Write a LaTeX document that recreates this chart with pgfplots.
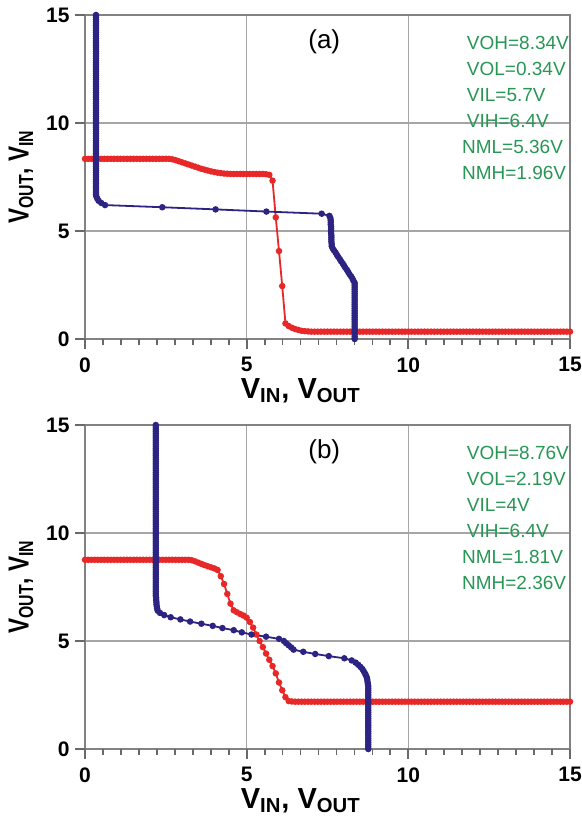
\documentclass[border=0pt]{standalone}
\usepackage{fontspec}
\setmainfont{Liberation Sans}
\usepackage{graphicx}
\usepackage{pgfplots}
\pgfplotsset{compat=1.18}
\usepackage{pgfplotstable}

\definecolor{cred}{RGB}{232,40,40}
\definecolor{cblue}{RGB}{45,35,130}
\definecolor{cgreen}{RGB}{40,150,85}
\definecolor{cgrid}{RGB}{165,165,165}
\definecolor{caxis}{RGB}{130,130,130}
\definecolor{ctick}{RGB}{105,105,105}

% s = swept input, r = output of inverter (red: x=s, y=r), b = output of second inverter (blue: x=b, y=s)
\pgfplotstableread[row sep=\\]{
s r b\\
0.0 8.34 8.34\\ 0.1 8.34 8.34\\ 0.2 8.34 8.34\\ 0.3 8.34 8.34\\ 0.4 8.34 8.34\\
0.5 8.34 8.34\\ 0.6 8.34 8.34\\ 0.7 8.34 8.34\\ 0.8 8.34 8.34\\ 0.9 8.34 8.34\\
1.0 8.34 8.34\\ 1.1 8.34 8.34\\ 1.2 8.34 8.34\\ 1.3 8.34 8.34\\ 1.4 8.34 8.34\\
1.5 8.34 8.34\\ 1.6 8.34 8.34\\ 1.7 8.34 8.34\\ 1.8 8.34 8.34\\ 1.9 8.34 8.34\\
2.0 8.34 8.34\\ 2.1 8.34 8.34\\ 2.2 8.34 8.34\\ 2.3 8.34 8.34\\ 2.4 8.34 8.34\\
2.5 8.34 8.34\\ 2.6 8.34 8.34\\ 2.7 8.32 8.30\\ 2.8 8.28 8.27\\ 2.9 8.23 8.23\\
3.0 8.18 8.18\\ 3.1 8.13 8.14\\ 3.2 8.08 8.10\\ 3.3 8.03 8.05\\ 3.4 7.98 8.01\\
3.5 7.93 7.97\\ 3.6 7.88 7.92\\ 3.7 7.84 7.88\\ 3.8 7.80 7.83\\ 3.9 7.76 7.79\\
4.0 7.73 7.75\\ 4.1 7.70 7.70\\ 4.2 7.68 7.66\\ 4.3 7.66 7.63\\ 4.4 7.65 7.63\\
4.5 7.64 7.62\\ 4.6 7.64 7.62\\ 4.7 7.64 7.62\\ 4.8 7.64 7.62\\ 4.9 7.64 7.61\\
5.0 7.64 7.61\\ 5.1 7.64 7.61\\ 5.2 7.64 7.61\\ 5.3 7.64 7.60\\ 5.4 7.64 7.60\\
5.5 7.64 7.60\\ 5.6 7.63 7.59\\ 5.7 7.60 7.56\\ 5.8 7.33 7.32\\ 5.9 5.63 5.61\\
6.0 4.07 4.04\\ 6.1 2.45 2.39\\ 6.2 0.72 0.62\\ 6.3 0.60 0.50\\ 6.4 0.52 0.42\\
6.5 0.46 0.38\\ 6.6 0.42 0.35\\ 6.7 0.38 0.34\\ 6.8 0.36 0.34\\ 6.9 0.35 0.34\\
7.0 0.34 0.34\\ 7.1 0.34 0.34\\ 7.2 0.34 0.34\\ 7.3 0.34 0.34\\ 7.4 0.34 0.34\\
7.5 0.34 0.34\\ 7.6 0.34 0.34\\ 7.7 0.34 0.34\\ 7.8 0.34 0.34\\ 7.9 0.34 0.34\\
8.0 0.34 0.34\\ 8.1 0.34 0.34\\ 8.2 0.34 0.34\\ 8.3 0.34 0.34\\ 8.4 0.34 0.34\\
8.5 0.34 0.34\\ 8.6 0.34 0.34\\ 8.7 0.34 0.34\\ 8.8 0.34 0.34\\ 8.9 0.34 0.34\\
9.0 0.34 0.34\\ 9.1 0.34 0.34\\ 9.2 0.34 0.34\\ 9.3 0.34 0.34\\ 9.4 0.34 0.34\\
9.5 0.34 0.34\\ 9.6 0.34 0.34\\ 9.7 0.34 0.34\\ 9.8 0.34 0.34\\ 9.9 0.34 0.34\\
10.0 0.34 0.34\\ 10.1 0.34 0.34\\ 10.2 0.34 0.34\\ 10.3 0.34 0.34\\ 10.4 0.34 0.34\\
10.5 0.34 0.34\\ 10.6 0.34 0.34\\ 10.7 0.34 0.34\\ 10.8 0.34 0.34\\ 10.9 0.34 0.34\\
11.0 0.34 0.34\\ 11.1 0.34 0.34\\ 11.2 0.34 0.34\\ 11.3 0.34 0.34\\ 11.4 0.34 0.34\\
11.5 0.34 0.34\\ 11.6 0.34 0.34\\ 11.7 0.34 0.34\\ 11.8 0.34 0.34\\ 11.9 0.34 0.34\\
12.0 0.34 0.34\\ 12.1 0.34 0.34\\ 12.2 0.34 0.34\\ 12.3 0.34 0.34\\ 12.4 0.34 0.34\\
12.5 0.34 0.34\\ 12.6 0.34 0.34\\ 12.7 0.34 0.34\\ 12.8 0.34 0.34\\ 12.9 0.34 0.34\\
13.0 0.34 0.34\\ 13.1 0.34 0.34\\ 13.2 0.34 0.34\\ 13.3 0.34 0.34\\ 13.4 0.34 0.34\\
13.5 0.34 0.34\\ 13.6 0.34 0.34\\ 13.7 0.34 0.34\\ 13.8 0.34 0.34\\ 13.9 0.34 0.34\\
14.0 0.34 0.34\\ 14.1 0.34 0.34\\ 14.2 0.34 0.34\\ 14.3 0.34 0.34\\ 14.4 0.34 0.34\\
14.5 0.34 0.34\\ 14.6 0.34 0.34\\ 14.7 0.34 0.34\\ 14.8 0.34 0.34\\ 14.9 0.34 0.34\\
15.0 0.34 0.34\\
}\dataA

\pgfplotstableread[row sep=\\]{
s r b\\
0.0 8.76 8.76\\ 0.1 8.76 8.76\\ 0.2 8.76 8.76\\ 0.3 8.76 8.76\\ 0.4 8.76 8.76\\
0.5 8.76 8.76\\ 0.6 8.76 8.76\\ 0.7 8.76 8.76\\ 0.8 8.76 8.76\\ 0.9 8.76 8.76\\
1.0 8.76 8.76\\ 1.1 8.76 8.76\\ 1.2 8.76 8.76\\ 1.3 8.76 8.76\\ 1.4 8.76 8.76\\
1.5 8.76 8.76\\ 1.6 8.76 8.76\\ 1.7 8.76 8.76\\ 1.8 8.76 8.76\\ 1.9 8.76 8.76\\
2.0 8.76 8.76\\ 2.1 8.76 8.76\\ 2.2 8.76 8.76\\ 2.3 8.76 8.76\\ 2.4 8.76 8.76\\
2.5 8.76 8.76\\ 2.6 8.76 8.76\\ 2.7 8.76 8.76\\ 2.8 8.76 8.76\\ 2.9 8.76 8.76\\
3.0 8.76 8.75\\ 3.1 8.76 8.74\\ 3.2 8.76 8.73\\ 3.3 8.74 8.72\\ 3.4 8.69 8.69\\
3.5 8.63 8.66\\ 3.6 8.57 8.62\\ 3.7 8.51 8.58\\ 3.8 8.46 8.52\\ 3.9 8.41 8.45\\
4.0 8.36 8.37\\ 4.1 8.29 8.25\\ 4.2 8.00 8.02\\ 4.3 7.64 7.54\\ 4.4 7.18 7.12\\
4.5 6.73 6.75\\ 4.6 6.42 6.45\\ 4.7 6.33 6.38\\ 4.8 6.25 6.30\\ 4.9 6.18 6.22\\
5.0 6.08 6.15\\ 5.1 5.88 6.00\\ 5.2 5.62 5.60\\ 5.3 5.30 5.15\\ 5.4 5.00 4.85\\
5.5 4.72 4.60\\ 5.6 4.42 4.25\\ 5.7 4.13 3.95\\ 5.8 3.84 3.60\\ 5.9 3.50 3.25\\
6.0 3.08 2.95\\ 6.1 2.72 2.65\\ 6.2 2.40 2.45\\ 6.3 2.22 2.32\\ 6.4 2.20 2.25\\
6.5 2.19 2.23\\ 6.6 2.19 2.22\\ 6.7 2.19 2.21\\ 6.8 2.19 2.21\\ 6.9 2.19 2.20\\
7.0 2.19 2.20\\ 7.1 2.19 2.19\\ 7.2 2.19 2.19\\ 7.3 2.19 2.19\\ 7.4 2.19 2.19\\
7.5 2.19 2.19\\ 7.6 2.19 2.19\\ 7.7 2.19 2.19\\ 7.8 2.19 2.19\\ 7.9 2.19 2.19\\
8.0 2.19 2.19\\ 8.1 2.19 2.19\\ 8.2 2.19 2.19\\ 8.3 2.19 2.19\\ 8.4 2.19 2.19\\
8.5 2.19 2.19\\ 8.6 2.19 2.19\\ 8.7 2.19 2.19\\ 8.8 2.19 2.19\\ 8.9 2.19 2.19\\
9.0 2.19 2.19\\ 9.1 2.19 2.19\\ 9.2 2.19 2.19\\ 9.3 2.19 2.19\\ 9.4 2.19 2.19\\
9.5 2.19 2.19\\ 9.6 2.19 2.19\\ 9.7 2.19 2.19\\ 9.8 2.19 2.19\\ 9.9 2.19 2.19\\
10.0 2.19 2.19\\ 10.1 2.19 2.19\\ 10.2 2.19 2.19\\ 10.3 2.19 2.19\\ 10.4 2.19 2.19\\
10.5 2.19 2.19\\ 10.6 2.19 2.19\\ 10.7 2.19 2.19\\ 10.8 2.19 2.19\\ 10.9 2.19 2.19\\
11.0 2.19 2.19\\ 11.1 2.19 2.19\\ 11.2 2.19 2.19\\ 11.3 2.19 2.19\\ 11.4 2.19 2.19\\
11.5 2.19 2.19\\ 11.6 2.19 2.19\\ 11.7 2.19 2.19\\ 11.8 2.19 2.19\\ 11.9 2.19 2.19\\
12.0 2.19 2.19\\ 12.1 2.19 2.19\\ 12.2 2.19 2.19\\ 12.3 2.19 2.19\\ 12.4 2.19 2.19\\
12.5 2.19 2.19\\ 12.6 2.19 2.19\\ 12.7 2.19 2.19\\ 12.8 2.19 2.19\\ 12.9 2.19 2.19\\
13.0 2.19 2.19\\ 13.1 2.19 2.19\\ 13.2 2.19 2.19\\ 13.3 2.19 2.19\\ 13.4 2.19 2.19\\
13.5 2.19 2.19\\ 13.6 2.19 2.19\\ 13.7 2.19 2.19\\ 13.8 2.19 2.19\\ 13.9 2.19 2.19\\
14.0 2.19 2.19\\ 14.1 2.19 2.19\\ 14.2 2.19 2.19\\ 14.3 2.19 2.19\\ 14.4 2.19 2.19\\
14.5 2.19 2.19\\ 14.6 2.19 2.19\\ 14.7 2.19 2.19\\ 14.8 2.19 2.19\\ 14.9 2.19 2.19\\
15.0 2.19 2.19\\
}\dataB

\pgfplotsset{
  myax/.style={
    scale only axis, width=242.5pt, height=162pt,
    xmin=0, xmax=15, ymin=0, ymax=15,
    xtick={0,5,10,15}, ytick={0,5,10,15},
    minor x tick num=8,
    xtick pos=bottom, ytick pos=left,
    axis line style={caxis,line width=0.7pt},
    grid=major, major grid style={cgrid,line width=0.6pt},
    tick align=outside, major tick length=5pt, minor tick length=3pt,
    major tick style={draw=ctick,line width=0.9pt},
    minor tick style={draw=ctick,line width=0.9pt},
    ticklabel style={font=\fontsize{10.5}{12}\selectfont\bfseries},
    /pgf/number format/assume math mode=true,
    yticklabel style={anchor=east,inner sep=0pt,xshift=-2.5pt},
    xticklabel style={anchor=north,inner sep=0pt,yshift=-4pt},
    xlabel={V\textsubscript{IN}, V\textsubscript{OUT}},
    ylabel={\scalebox{0.78}[1]{V\textsubscript{OUT}, V\textsubscript{IN}}},
    label style={font=\fontsize{14.5}{16}\selectfont\bfseries},
    xlabel style={at={(axis description cs:0.445,-0.16)},anchor=center},
    ylabel style={at={(axis description cs:-0.132,0.5)},anchor=center},
    clip=false,
  },
  redp/.style={cred,line width=0.9pt,mark=*,mark size=1.15pt,mark options={solid,fill=cred,draw=cred}},
  bluep/.style={cblue,line width=0.9pt,mark=*,mark size=1.15pt,mark options={solid,fill=cblue,draw=cblue}},
}
\tikzset{gtxt/.style={anchor=west,text=cgreen,font=\fontsize{9.5}{11}\selectfont,inner sep=0pt},
  tk/.style={draw=ctick,line width=0.9pt}}
\newcommand{\axisticks}{%
  \pgfplotsinvokeforeach{0.5556,1.1111,1.6667,2.2222,2.7778,3.3333,3.8889,4.4444,5.5556,6.1111,6.6667,7.2222,7.7778,8.3333,8.8889,9.4444,10.5556,11.1111,11.6667,12.2222,12.7778,13.3333,13.8889,14.4444}{%
    \draw[tk] (axis cs:##1,0) -- ++(0pt,-3pt);}%
  \pgfplotsinvokeforeach{0,5,10,15}{%
    \draw[tk] (axis cs:##1,0) -- ++(0pt,-5pt);
    \draw[tk] (axis cs:0,##1) -- ++(-5pt,0pt);}%
}

\begin{document}
\begin{tikzpicture}
\path[use as bounding box] (-42.5pt,-239pt) rectangle (248.5pt,169.5pt);
\begin{axis}[myax, at={(0pt,0pt)}, anchor=south west]
\axisticks
\addplot[redp] table[x=s,y=r]{\dataA};
\addplot[bluep] table[x=b,y=s]{\dataA};
\node[font=\fontsize{13}{15}\selectfont,inner sep=0pt] at (axis cs:7.4,13.75) {(a)};
\node[gtxt] at (axis cs:11.8,13.7) {VOH=8.34V};
\node[gtxt] at (axis cs:11.8,12.5) {VOL=0.34V};
\node[gtxt] at (axis cs:11.8,11.3) {VIL=5.7V};
\node[gtxt] at (axis cs:11.8,10.1) {VIH=6.4V};
\node[gtxt] at (axis cs:11.65,8.9) {NML=5.36V};
\node[gtxt] at (axis cs:11.65,7.7) {NMH=1.96V};
\end{axis}
\begin{axis}[myax, at={(0pt,-205pt)}, anchor=south west]
\axisticks
\addplot[redp] table[x=s,y=r]{\dataB};
\addplot[bluep] table[x=b,y=s]{\dataB};
\node[font=\fontsize{13}{15}\selectfont,inner sep=0pt] at (axis cs:7.4,13.75) {(b)};
\node[gtxt] at (axis cs:11.8,13.7) {VOH=8.76V};
\node[gtxt] at (axis cs:11.8,12.5) {VOL=2.19V};
\node[gtxt] at (axis cs:11.8,11.3) {VIL=4V};
\node[gtxt] at (axis cs:11.8,10.1) {VIH=6.4V};
\node[gtxt] at (axis cs:11.65,8.9) {NML=1.81V};
\node[gtxt] at (axis cs:11.65,7.7) {NMH=2.36V};
\end{axis}
\end{tikzpicture}
\end{document}
